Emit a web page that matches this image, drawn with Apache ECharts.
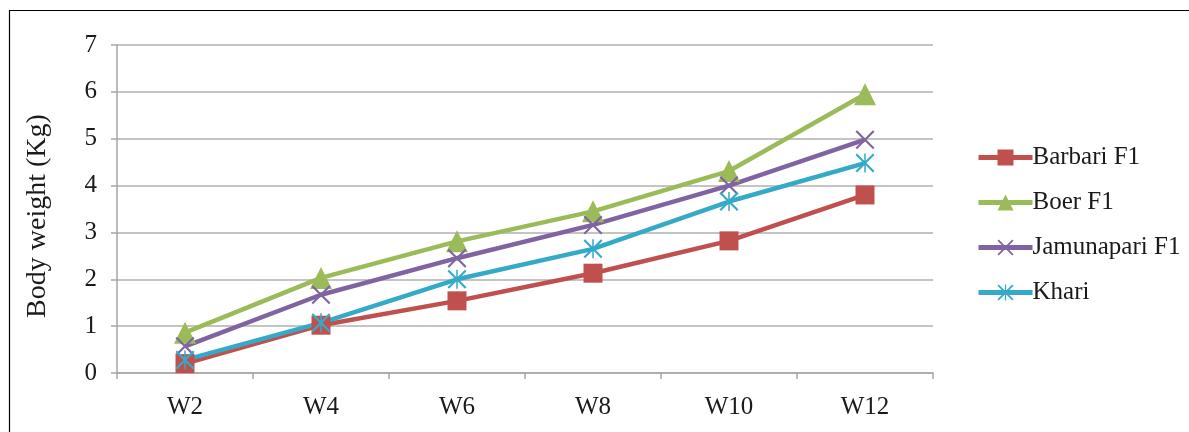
<!DOCTYPE html>
<html>
<head>
<meta charset="utf-8">
<script src="https://cdn.jsdelivr.net/npm/echarts@6/dist/echarts.min.js"></script>
<style>
  html, body { margin: 0; padding: 0; background: #fff; }
  #chart { width: 1189px; height: 432px; }
</style>
</head>
<body>
<div id="chart"></div>
<script>
// Weeks of age
const weeks = ['W2', 'W4', 'W6', 'W8', 'W10', 'W12'];

// Body weight (kg) per genotype
const barbariF1 = [0.20, 1.02, 1.54, 2.13, 2.82, 3.80];
const boerF1 = [0.86, 2.03, 2.81, 3.45, 4.31, 5.95];
const jamunapariF1 = [0.57, 1.67, 2.45, 3.16, 4.00, 4.98];
const khari = [0.28, 1.07, 2.00, 2.65, 3.66, 4.48];

const yTicks = [0, 1, 2, 3, 4, 5, 6, 7];

const FONT = "'Liberation Serif', 'Times New Roman', serif";

// Marker glyphs: a thin cross and an asterisk (cross + vertical bar)
const crossPath = 'path://M0,8 L8,0 L50,42 L92,0 L100,8 L58,50 L100,92 L92,100 L50,58 L8,100 L0,92 L42,50 Z';
const starPath = crossPath + ' M46,0 L54,0 L54,100 L46,100 Z';

function lineSeries(name, data, color, symbol, size) {
  return {
    name: name,
    type: 'line',
    data: data,
    symbol: symbol,
    symbolSize: size,
    showAllSymbol: true,
    color: color,
    lineStyle: { color: color, width: 4.5 },
    itemStyle: { color: color, borderWidth: 0 },
    emphasis: { disabled: true },
    animation: false
  };
}

const chart = echarts.init(document.getElementById('chart'), null, { renderer: 'canvas' });

chart.setOption({
  backgroundColor: '#ffffff',
  animation: false,
  graphic: [{
    type: 'rect',
    shape: { x: 9.5, y: 10.5, width: 1300, height: 500 },
    style: { fill: 'none', stroke: '#000', lineWidth: 1.2 },
    silent: true,
    z: -10
  }, {
    type: 'text',
    x: 38,
    y: 216,
    rotation: Math.PI / 2,
    style: {
      text: 'Body weight (Kg)',
      font: "28px 'Liberation Serif', 'Times New Roman', serif",
      fill: '#1a1a1a',
      align: 'center',
      verticalAlign: 'middle'
    },
    silent: true
  }],
  grid: { left: 117, right: 256, top: 45, bottom: 59, containLabel: false },
  legend: {
    orient: 'vertical',
    left: 971,
    top: 140,
    itemWidth: 54,
    itemHeight: 20,
    itemGap: 20,
    lineStyle: { width: 5 },
    textStyle: { fontFamily: FONT, fontSize: 25, color: '#1a1a1a', lineHeight: 24, padding: [0, 0, 0, -5] },
    data: ['Barbari F1', 'Boer F1', 'Jamunapari F1', 'Khari']
  },
  xAxis: {
    type: 'category',
    data: weeks,
    boundaryGap: true,
    axisLine: { lineStyle: { color: '#a6a6a6', width: 1.5 } },
    axisTick: { show: true, length: 6, inside: false, lineStyle: { color: '#a6a6a6', width: 1.5 } },
    axisLabel: { fontFamily: FONT, fontSize: 25, color: '#1a1a1a', margin: 22 },
    splitLine: { show: false }
  },
  yAxis: {
    type: 'value',
    min: yTicks[0],
    max: yTicks[yTicks.length - 1],
    interval: 1,
    axisLine: { show: true, lineStyle: { color: '#a6a6a6', width: 1.5 } },
    axisTick: { show: true, length: 6, inside: false, lineStyle: { color: '#a6a6a6', width: 1.5 } },
    axisLabel: { fontFamily: FONT, fontSize: 25, color: '#1a1a1a', margin: 20 },
    splitLine: { show: true, lineStyle: { color: '#b0b0b0', width: 1.5 } }
  },
  series: [
    lineSeries('Barbari F1', barbariF1, '#C0504D', 'rect', 19),
    lineSeries('Boer F1', boerF1, '#9BBB59', 'triangle', 22),
    lineSeries('Jamunapari F1', jamunapariF1, '#8064A2', crossPath, 19),
    lineSeries('Khari', khari, '#35AAC8', starPath, 19)
  ]
});
</script>
</body>
</html>
